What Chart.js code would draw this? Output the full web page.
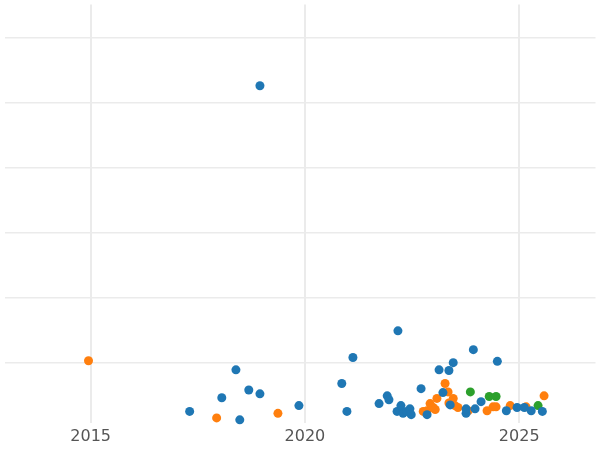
<!DOCTYPE html><html><head><meta charset="utf-8">
<script src="https://cdn.jsdelivr.net/npm/chart.js@4"></script>
<style>html,body{margin:0;padding:0;background:#fff}#w{width:600px;height:450px}</style></head><body><div id="w"><canvas id="c"></canvas></div>
<script>
const blueX=[2018.95,2017.31,2018.06,2018.39,2018.69,2018.48,2018.95,2019.86,2020.86,2020.98,2021.12,2021.73,2021.92,2021.96,2022.17,2022.15,2022.24,2022.29,2022.38,2022.45,2022.48,2022.71,2022.85,2023.13,2023.22,2023.36,2023.46,2023.39,2023.76,2023.76,2023.93,2023.97,2024.11,2024.49,2024.7,2024.95,2025.28,2025.54,2025.12];
const blueY=[5.26,0.25,0.46,0.89,0.58,0.12,0.52,0.34,0.68,0.25,1.08,0.37,0.49,0.43,1.49,0.25,0.34,0.22,0.25,0.29,0.2,0.6,0.2,0.89,0.54,0.88,1.0,0.35,0.22,0.29,1.2,0.29,0.4,1.02,0.26,0.31,0.26,0.25,0.31];
const orangeX=[2014.95,2017.94,2019.37,2022.76,2022.85,2022.92,2022.99,2023.04,2023.08,2023.27,2023.34,2023.36,2023.46,2023.5,2023.57,2023.81,2024.25,2024.39,2024.46,2024.79,2025.16,2025.58];
const orangeY=[1.03,0.15,0.22,0.25,0.26,0.37,0.31,0.28,0.45,0.68,0.55,0.38,0.45,0.34,0.31,0.26,0.26,0.32,0.32,0.34,0.32,0.49];
const greenX=[2023.86,2024.3,2024.46,2025.44];
const greenY=[0.55,0.48,0.48,0.34];
const pts=(xs,ys)=>xs.map((x,i)=>({x,y:ys[i]}));
new Chart(document.getElementById('c'),{type:'scatter',data:{datasets:[
{data:pts(blueX,blueY),backgroundColor:'#1f77b4',borderWidth:0,pointRadius:4.5,clip:false},
{data:pts(orangeX,orangeY),backgroundColor:'#ff7f0e',borderWidth:0,pointRadius:4.5,clip:false},
{data:pts(greenX,greenY),backgroundColor:'#2ca02c',borderWidth:0,pointRadius:4.5,clip:false}]},
options:{responsive:true,maintainAspectRatio:false,animation:false,layout:{padding:0},
plugins:{legend:{display:false},tooltip:{enabled:false}},
scales:{x:{type:'linear',min:2012.99,max:2026.78,afterBuildTicks:a=>{a.ticks=[2015,2020,2025].map(v=>({value:v}));},
ticks:{color:'#555',font:{family:'DejaVu Sans',size:16},callback:v=>String(v),padding:4},
grid:{color:'#ebebeb',drawTicks:false,lineWidth:2},border:{display:false}},
y:{min:0.075,max:6.51,afterBuildTicks:a=>{a.ticks=[1,2,3,4,5,6].map(v=>({value:v}));},
ticks:{display:false},grid:{color:'#ebebeb',drawTicks:false,lineWidth:1.5},border:{display:false}}}}});
</script></body></html>
